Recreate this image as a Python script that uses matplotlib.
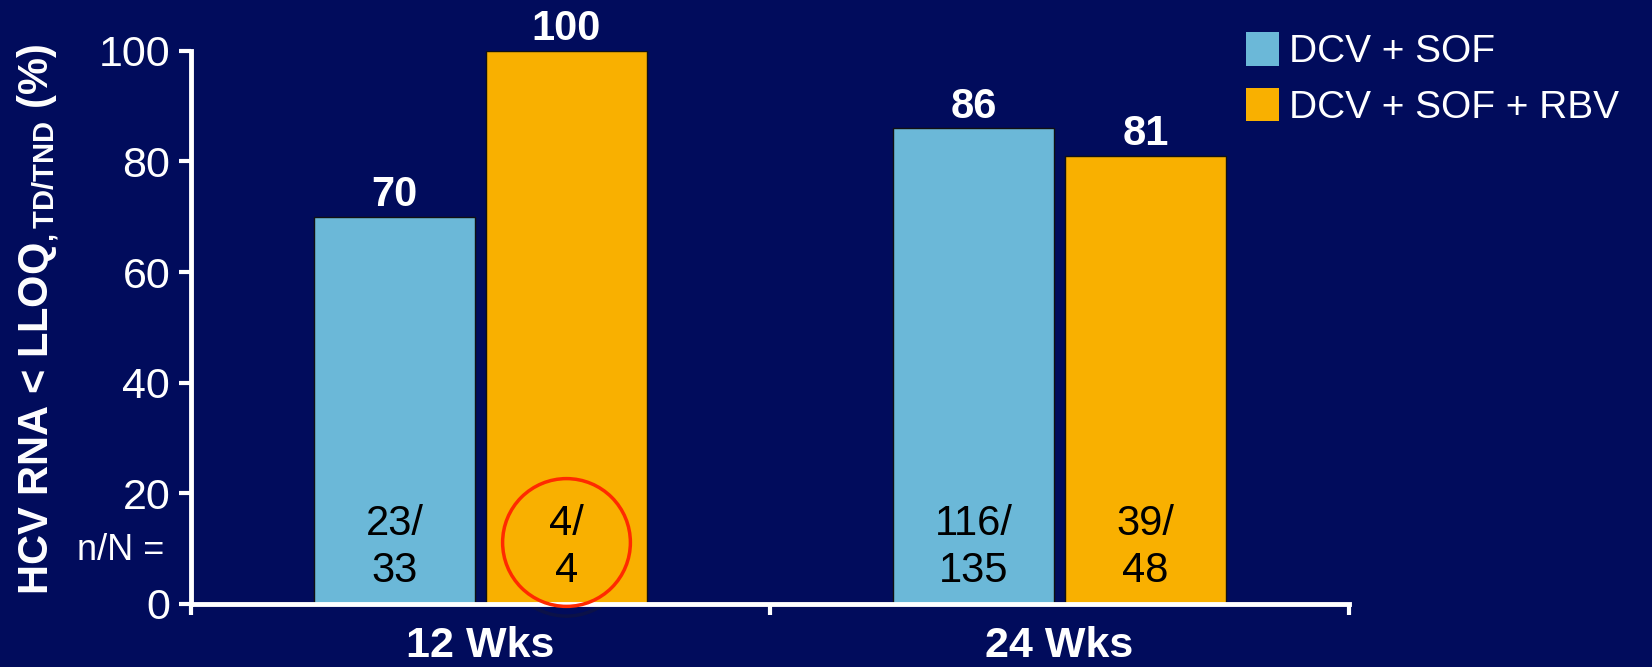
import matplotlib
matplotlib.use("Agg")
import matplotlib.pyplot as plt
from matplotlib.patches import Patch
import numpy as np

# Data
groups = ["12 Wks", "24 Wks"]
series = ["DCV + SOF", "DCV + SOF + RBV"]
dcv_sof = [70, 86]
dcv_sof_rbv = [100, 81]
n_dcv_sof = ["23/\n33", "116/\n135"]
n_dcv_sof_rbv = ["4/\n4", "39/\n48"]
y_ticks = [0, 20, 40, 60, 80, 100]

# Styling
bg = "#010C5C"
blue = "#6BB8D8"
orange = "#F9B000"
plt.rcParams["font.family"] = ["Liberation Sans", "DejaVu Sans"]
plt.rcParams["mathtext.fontset"] = "custom"
plt.rcParams["mathtext.rm"] = "Liberation Sans"
plt.rcParams["mathtext.bf"] = "Liberation Sans:bold"

fig = plt.figure(figsize=(16.52, 6.67), dpi=100, facecolor=bg)
ax = fig.add_axes([0.1156, 0.0945, 0.701, 0.8295])
ax.set_facecolor(bg)

centers = np.array([0.5, 1.5])
width = 0.277
off = 0.1485

b1 = ax.bar(centers - off, dcv_sof, width, color=blue, edgecolor="#111111",
            linewidth=1, zorder=2)
b2 = ax.bar(centers + off, dcv_sof_rbv, width, color=orange, edgecolor="#111111",
            linewidth=1, zorder=2)

# value labels on top
for bars, vals in ((b1, dcv_sof), (b2, dcv_sof_rbv)):
    for rect, v in zip(bars, vals):
        ax.annotate(str(v), (rect.get_x() + rect.get_width() / 2, v),
                    xytext=(0, 1), textcoords="offset points",
                    ha="center", va="bottom", color="white",
                    fontsize=30, fontweight="bold", annotation_clip=False)

# n/N labels inside bars
for bars, labs in ((b1, n_dcv_sof), (b2, n_dcv_sof_rbv)):
    for rect, lab in zip(bars, labs):
        ax.text(rect.get_x() + rect.get_width() / 2, 10.2, lab,
                ha="center", va="center", color="black", fontsize=30,
                linespacing=1.2, zorder=4)

ax.annotate("n/N =", (0, 9.7), xytext=(-19, 0), textcoords="offset points",
            ha="right", va="center", color="white", fontsize=26,
            annotation_clip=False)

# highlight circle around the 4/4 bar (faint shadow behind, red ring on top)
ax.plot(centers[0] + off, 9.6, marker="o", markersize=93, markerfacecolor="none",
        markeredgecolor="#0B1148", markeredgewidth=2.5, clip_on=False, zorder=1)
ax.plot(centers[0] + off, 11.2, marker="o", markersize=92, markerfacecolor="none",
        markeredgecolor="#FF2A00", markeredgewidth=2.5, clip_on=False, zorder=5)

# axes
ax.set_xlim(0, 2)
ax.set_ylim(0, 100)
ax.set_yticks(y_ticks)
ax.set_yticklabels([str(t) for t in y_ticks])
ax.set_xticks([0, 1, 2])
ax.set_xticklabels(["", "", ""])
ax.set_xticks(centers, minor=True)
ax.set_xticklabels(groups, minor=True)
ax.tick_params(axis="x", which="minor", length=0, pad=16, labelsize=31,
               labelcolor="white")
for lab in ax.get_xticklabels(minor=True):
    lab.set_fontweight("bold")
ax.tick_params(axis="x", which="major", direction="out", length=8, width=3,
               color="white")
ax.tick_params(axis="y", direction="out", length=9, width=3, color="white",
               labelcolor="white", labelsize=31, pad=6)

for s in ("top", "right"):
    ax.spines[s].set_visible(False)
for s in ("left", "bottom"):
    ax.spines[s].set_color("white")
    ax.spines[s].set_linewidth(3.5)
    ax.spines[s].set_zorder(3)

ax.set_ylabel(r"HCV RNA < LLOQ$_{\mathbf{,TD/TND}}$ (%)", color="white",
              fontsize=30, fontweight="bold", va="center")
ax.yaxis.set_label_coords(-0.132, 0.515)

handles = [Patch(facecolor=blue), Patch(facecolor=orange)]
leg = fig.legend(handles, series, loc="upper left", bbox_to_anchor=(0.745, 0.975),
                 frameon=False, fontsize=28, labelcolor="white",
                 handlelength=0.85, handleheight=0.95, handletextpad=0.25,
                 labelspacing=0.45, borderaxespad=0)

fig.savefig("out.png", dpi=100, facecolor=bg)
